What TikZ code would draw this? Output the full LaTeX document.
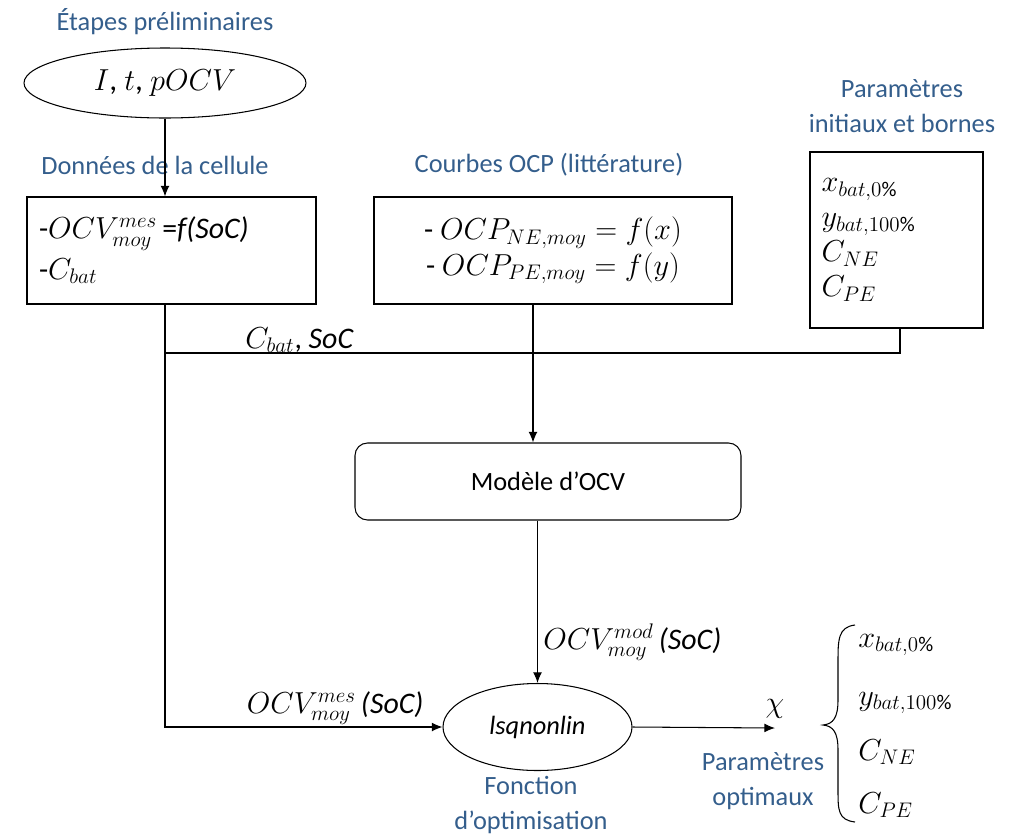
\documentclass[tikz,border=0pt]{standalone}
\usepackage{fontspec}
\setmainfont{Carlito}
\usetikzlibrary{shapes.geometric,calc,arrows.meta}
\definecolor{titleblue}{RGB}{52,94,140}
\begin{document}
\begin{tikzpicture}[x=0.02cm, y=-0.02cm, >={Latex[length=6pt,width=5pt]}, line width=0.6pt,
      ttl/.style={text=titleblue, align=center, font=\fontsize{15}{20}\selectfont},
      blk/.style={draw, inner sep=0pt, font=\fontsize{17}{20}\selectfont},
      ell/.style={draw, ellipse, inner sep=0pt, font=\fontsize{17}{20}\selectfont},
      lbl/.style={inner sep=1pt, font=\fontsize{17}{20}\selectfont}]
    \useasboundingbox (0,0) rectangle (1014,839);
    % titles
    \node[ttl] (t1) at (165,22) {Étapes préliminaires};
    \node[ttl] (t2) at (155,165) {Données de la cellule};
    \node[ttl] (t3) at (549,165) {Courbes OCP (littérature)};
    \node[ttl] (t4) at (902,106) {Paramètres\\initiaux et bornes};
    \node[ttl] (t5) at (531,805) {Fonction\\d’optimisation};
    \node[ttl] (t6) at (763,781) {Paramètres\\optimaux};
    % inputs
    \node[ell, minimum width=282*0.02cm, minimum height=70*0.02cm, font=\fontsize{18}{20}\selectfont] (ini) at (165,83) {$I$, $t$, $pOCV$};
    \node[blk, minimum width=289*0.02cm, minimum height=107*0.02cm, text width=265*0.02cm, align=left] (don) at (171.5,250.5)
      {-$OCV_{moy}^{mes}$\,=\textit{f(SoC)}\\[3pt]-$C_{bat}$};
    \node[blk, minimum width=358*0.02cm, minimum height=107*0.02cm, align=center] (ocp) at (553,250.5)
      {- $OCP_{NE,moy}=f(x)$\\- $OCP_{PE,moy}=f(y)$};
    \node[blk, minimum width=173*0.02cm, minimum height=176*0.02cm, text width=150*0.02cm, align=left] (bor) at (896.5,240)
      {$x_{bat,0\%}$\\$y_{bat,100\%}$\\$C_{NE}$\\$C_{PE}$\\[8pt]};
    % model and optimiser
    \node[blk, rounded corners=0.25cm, minimum width=386*0.02cm, minimum height=77*0.02cm, font=\fontsize{15}{18}\selectfont] (mod) at (548,481.5) {Modèle d’OCV};
    \node[ell, minimum width=189*0.02cm, minimum height=87*0.02cm, font=\fontsize{15}{18}\selectfont\itshape] (lsq) at (537.5,727) {lsqnonlin};
    \coordinate (jn) at (165,353);
    \coordinate (oc) at ($(ocp.south)+(-20,0)$);
    \coordinate (bj) at ($(bor.south)+(3.5,0)$);
    \coordinate (chi) at (775,728);
    % connectors
    \draw[->] (ini.south) -- (ini.south |- don.north);
    \draw[->] (ini.south |- don.south) |- (lsq.west)
      node[lbl, pos=0.97, anchor=south east] {$OCV_{moy}^{mes}$\,\textit{(SoC)}};
    \draw (jn) -| (bj);
    \node[lbl, anchor=south west] (cs) at (243,355) {$C_{bat}$, \textit{SoC}};
    \draw[->] (oc) -- (oc |- mod.north);
    \draw[->] (mod.south -| lsq.north) -- (lsq.north)
      node[lbl, pos=0.75, anchor=west, xshift=2pt] {$OCV_{moy}^{mod}$\,\textit{(SoC)}};
    \draw[->] (lsq.east) -- (chi) node[lbl, anchor=south, yshift=4pt] {$\chi$};
    % optimal parameters
    \draw (855,625) .. controls (838,627) and (838,640) .. (838,662) -- (838,700)
      .. controls (838,718) and (833,724) .. (823,725)
      .. controls (833,726) and (838,732) .. (838,750) -- (838,790)
      .. controls (838,810) and (838,820) .. (855,822);
    \node[lbl, anchor=west] (p1) at (856,645) {$x_{bat,0\%}$};
    \node[lbl, anchor=west] (p2) at (856,703) {$y_{bat,100\%}$};
    \node[lbl, anchor=west] (p3) at (856,752) {$C_{NE}$};
    \node[lbl, anchor=west] (p4) at (856,805) {$C_{PE}$};
  \end{tikzpicture}
\end{document}
